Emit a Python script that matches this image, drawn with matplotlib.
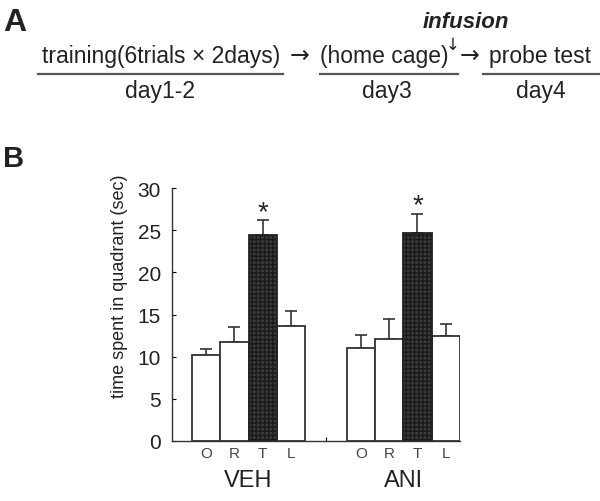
import matplotlib
matplotlib.use("Agg")
import matplotlib.pyplot as plt
from matplotlib.lines import Line2D
import matplotlib.transforms as mtransforms
import numpy as np

plt.rcParams['font.family'] = ['Liberation Sans', 'DejaVu Sans']

groups = ["VEH", "ANI"]
quadrants = ["O", "R", "T", "L"]
veh_means = [10.2, 11.7, 24.5, 13.6]
veh_errs = [0.7, 1.85, 1.7, 1.8]
ani_means = [11.0, 12.1, 24.7, 12.4]
ani_errs = [1.6, 2.4, 2.3, 1.5]
y_ticks = [0, 5, 10, 15, 20, 25, 30]
ylabel = "time spent in quadrant (sec)"

W, H = 600, 502
fig = plt.figure(figsize=(W / 100, H / 100), dpi=100)

def fx(px):
    return px / W

def fy(py):
    return 1 - py / H

TC = '#222222'
# ---- Panel A ----
fig.text(fx(3), fy(31), "A", fontsize=23, fontweight='bold', va='baseline', ha='left', color=TC)
fs = 16.5
base = fy(63)
fig.text(fx(42), base, "training(6trials \u00d7 2days)", fontsize=fs, va='baseline', ha='left', color=TC)
fig.text(fx(290), base, "\u2192", fontsize=17, va='baseline', ha='left', color=TC, family='DejaVu Sans')
fig.text(fx(320), base, "(home cage)", fontsize=fs, va='baseline', ha='left', color=TC)
fig.text(fx(452.5), fy(35.5), "\u2193", fontsize=12, va='top', ha='center', color=TC, family='DejaVu Sans')
fig.text(fx(460), base, "\u2192", fontsize=17, va='baseline', ha='left', color=TC, family='DejaVu Sans')
fig.text(fx(489), base, "probe test", fontsize=fs, va='baseline', ha='left', color=TC)
fig.text(fx(466), fy(28), "infusion", fontsize=16, fontweight='bold', fontstyle='italic',
         va='baseline', ha='center', color=TC)
for (x0, x1, lab, cx) in [(38, 283, "day1-2", 160), (320, 458, "day3", 387), (483, 599, "day4", 541)]:
    fig.add_artist(Line2D([fx(x0), fx(x1)], [fy(75), fy(75)], color='#555', lw=1.6))
    fig.text(fx(cx), fy(98), lab, fontsize=fs, va='baseline', ha='center', color=TC)

# ---- Panel B ----
fig.text(fx(3), fy(167), "B", fontsize=21, fontweight='bold', va='baseline', ha='left', color=TC)

ax = fig.add_axes([fx(172), fy(441.7), fx(460) - fx(172), fy(189.3) - fy(441.7)])
gap = 5.46
xs_veh = np.arange(4)
xs_ani = np.arange(4) + gap
fills = ['white', 'white', '#3a3a3a', 'white']
hatches = [None, None, '++++', None]
for xs, means, errs in [(xs_veh, veh_means, veh_errs), (xs_ani, ani_means, ani_errs)]:
    for x, m, e, fc, h in zip(xs, means, errs, fills, hatches):
        if h:
            ax.bar(x, m, width=1.0, color=fc, edgecolor='#1a1a1a', hatch=h, linewidth=0, zorder=2)
            ax.bar(x, m, width=1.0, fill=False, edgecolor='#222', linewidth=1.3, zorder=3)
        else:
            ax.bar(x, m, width=1.0, color=fc, edgecolor='#333', linewidth=1.3, zorder=2)
        ax.errorbar(x, m, yerr=[[0], [e]], fmt='none', ecolor='#333', elinewidth=1.2,
                    capsize=4, capthick=1.2, zorder=1)
    t = 2
    ax.text(xs[t], means[t] + errs[t] + 1.0, "*", fontsize=20, ha='center', va='center', color=TC)

ax.set_xlim(-1.2, xs_ani[-1] + 0.5)
ax.set_ylim(0, 30)
ax.set_yticks(y_ticks)
ax.set_yticklabels([str(v) for v in y_ticks], fontsize=15, color=TC)
ax.tick_params(axis='y', direction='in', length=3, width=0.8, pad=8)
centers = list(xs_veh) + list(xs_ani)
ax.set_xticks(centers)
ax.set_xticklabels(quadrants * 2, fontsize=11, color='#444')
ax.tick_params(axis='x', length=0, pad=4)
ax.set_xticks([(xs_veh[-1] + xs_ani[0]) / 2], minor=True)
ax.tick_params(axis='x', which='minor', direction='in', length=3, width=0.8)
for s in ['top', 'right']:
    ax.spines[s].set_visible(False)
for s in ['left', 'bottom']:
    ax.spines[s].set_linewidth(1.0)
    ax.spines[s].set_color('#333')

trans = mtransforms.blended_transform_factory(ax.transData, ax.transAxes)
for xs, g in [(xs_veh, groups[0]), (xs_ani, groups[1])]:
    ax.text(np.mean(xs), -0.156, g, transform=trans, fontsize=17, ha='center', va='center', color=TC)

fig.text(fx(119), fy(286), ylabel, fontsize=13, rotation=90, ha='center', va='center', color=TC)

fig.savefig("out.png", dpi=100)
